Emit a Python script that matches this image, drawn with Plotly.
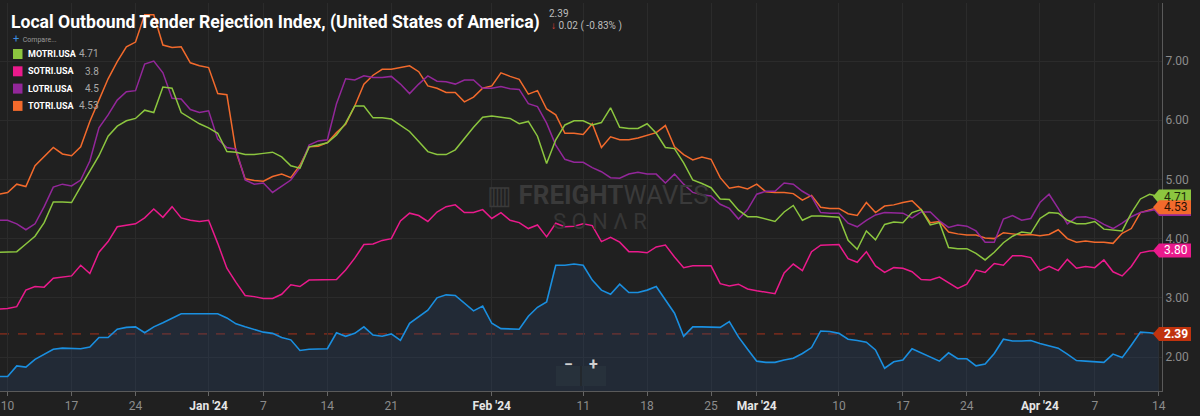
import pandas as pd
import plotly.graph_objects as go

# daily values, 2023-12-09 .. 2024-04-14
start_date = "2023-12-09"

otri = [1.67, 1.67, 1.85, 1.83, 1.96, 2.04, 2.13, 2.15, 2.15, 2.14, 2.17,
        2.33, 2.33, 2.47, 2.50, 2.51, 2.41, 2.51, 2.58, 2.65, 2.73,
        2.73, 2.73, 2.73, 2.73, 2.66, 2.56, 2.51, 2.46, 2.42, 2.40,
        2.33, 2.29, 2.11, 2.13, 2.14, 2.14, 2.41, 2.35, 2.40, 2.51,
        2.37, 2.35, 2.39, 2.28, 2.57, 2.68, 2.79, 3.00, 3.05, 3.04,
        2.91, 2.78, 2.86, 2.57, 2.48, 2.48, 2.47, 2.69, 2.84, 2.93,
        3.55, 3.55, 3.57, 3.55, 3.30, 3.13, 3.06, 3.23, 3.09, 3.09,
        3.13, 3.19, 2.96, 2.74, 2.35, 2.51, 2.51, 2.51, 2.50, 2.60,
        2.34, 2.13, 1.93, 1.91, 1.91, 1.95, 1.98, 2.06, 2.16, 2.44,
        2.43, 2.40, 2.30, 2.28, 2.25, 2.12, 1.81, 1.92, 1.95, 2.14,
        2.07, 2.01, 1.93, 2.07, 1.97, 1.97, 1.85, 1.88, 2.06, 2.30,
        2.27, 2.27, 2.28, 2.23, 2.19, 2.15, 2.05, 1.94, 1.93, 1.92,
        1.91, 2.05, 1.99, 2.20, 2.42, 2.41, 2.39]

motri = [3.77, 3.78, 3.78, 3.91, 4.04, 4.27, 4.62, 4.62, 4.61, 4.88, 5.13,
         5.40, 5.73, 5.90, 5.99, 6.03, 6.17, 6.13, 6.56, 6.54, 6.13,
         6.03, 5.94, 5.87, 5.78, 5.47, 5.46, 5.42, 5.42, 5.44, 5.46,
         5.38, 5.23, 5.19, 5.55, 5.58, 5.62, 5.75, 5.95, 6.24, 6.24,
         6.04, 6.04, 6.02, 5.92, 5.81, 5.64, 5.47, 5.42, 5.42, 5.50,
         5.69, 5.88, 6.05, 6.07, 6.05, 6.03, 5.94, 5.98, 5.73, 5.27,
         5.67, 5.92, 5.99, 5.99, 5.92, 5.96, 6.21, 5.88, 5.86, 5.86,
         5.94, 5.78, 5.54, 5.52, 5.28, 4.99, 4.93, 4.86, 4.67, 4.66,
         4.48, 4.37, 4.37, 4.33, 4.29, 4.45, 4.56, 4.31, 4.38, 4.38,
         4.37, 4.36, 3.97, 3.82, 4.13, 3.98, 4.24, 4.28, 4.27, 4.44,
         4.49, 4.23, 4.27, 3.85, 3.83, 3.83, 3.75, 3.64, 3.77, 3.93,
         4.04, 4.11, 4.09, 4.34, 4.44, 4.43, 4.31, 4.25, 4.25, 4.29,
         4.16, 4.14, 4.13, 4.43, 4.67, 4.75, 4.71]

sotri = [2.81, 2.82, 2.85, 3.13, 3.19, 3.18, 3.33, 3.35, 3.37, 3.55, 3.41,
         3.77, 3.95, 4.20, 4.22, 4.25, 4.35, 4.50, 4.36, 4.54, 4.35,
         4.31, 4.29, 4.31, 3.92, 3.50, 3.26, 3.04, 3.02, 2.99, 2.99,
         3.06, 3.22, 3.19, 3.30, 3.30, 3.31, 3.31, 3.47, 3.67, 3.90,
         3.91, 3.97, 4.00, 4.30, 4.43, 4.39, 4.29, 4.45, 4.54, 4.57,
         4.44, 4.44, 4.49, 4.34, 4.44, 4.31, 4.27, 4.17, 4.23, 4.03,
         4.26, 4.20, 4.21, 4.25, 4.22, 3.95, 4.02, 3.94, 3.78, 3.78,
         3.76, 3.86, 3.89, 3.69, 3.51, 3.54, 3.54, 3.54, 3.24, 3.20,
         3.23, 3.15, 3.12, 3.09, 3.07, 3.42, 3.57, 3.46, 3.78, 3.89,
         3.90, 3.90, 3.66, 3.60, 3.78, 3.54, 3.43, 3.51, 3.50, 3.44,
         3.31, 3.30, 3.35, 3.26, 3.16, 3.23, 3.47, 3.43, 3.58, 3.55,
         3.71, 3.71, 3.68, 3.46, 3.53, 3.46, 3.65, 3.50, 3.53, 3.51,
         3.64, 3.44, 3.37, 3.53, 3.76, 3.79, 3.8]

lotri = [4.31, 4.31, 4.25, 4.15, 4.25, 4.54, 4.87, 4.92, 4.89, 4.99, 5.31,
         5.87, 6.09, 6.34, 6.48, 6.50, 6.95, 7.00, 6.80, 6.37, 6.36,
         6.18, 6.13, 6.16, 5.68, 5.54, 5.51, 4.99, 4.92, 4.94, 4.78,
         4.89, 4.99, 5.20, 5.58, 5.65, 5.67, 6.28, 6.70, 6.68, 6.75,
         6.72, 6.72, 6.74, 6.61, 6.45, 6.61, 6.75, 6.66, 6.65, 6.61,
         6.68, 6.68, 6.54, 6.54, 6.57, 6.53, 6.52, 6.28, 6.23, 5.95,
         5.58, 5.34, 5.29, 5.29, 5.20, 5.13, 5.03, 5.02, 5.09, 5.12,
         5.09, 5.09, 4.94, 5.09, 4.92, 4.78, 4.74, 4.72, 4.58, 4.51,
         4.33, 4.49, 4.75, 4.80, 4.80, 4.94, 4.92, 4.80, 4.71, 4.44,
         4.43, 4.43, 4.26, 4.20, 4.31, 4.40, 4.44, 4.43, 4.43, 4.35,
         4.45, 4.45, 4.30, 4.19, 4.23, 4.21, 4.13, 3.94, 3.94, 4.33,
         4.39, 4.31, 4.34, 4.61, 4.75, 4.51, 4.25, 4.36, 4.37, 4.33,
         4.24, 4.17, 4.26, 4.37, 4.44, 4.47, 4.5]

totri = [4.75, 4.78, 4.92, 4.88, 5.23, 5.38, 5.54, 5.43, 5.40, 5.55, 5.98,
         6.34, 6.70, 6.99, 7.24, 7.32, 7.78, 7.78, 7.27, 7.23, 7.24,
         6.97, 6.92, 6.89, 6.45, 6.43, 5.47, 5.01, 4.98, 4.97, 5.05,
         5.09, 5.03, 5.24, 5.55, 5.56, 5.62, 5.79, 5.93, 6.24, 6.61,
         6.76, 6.86, 6.86, 6.89, 6.92, 6.82, 6.58, 6.54, 6.47, 6.47,
         6.31, 6.39, 6.54, 6.58, 6.80, 6.74, 6.69, 6.44, 6.50, 6.19,
         6.09, 5.78, 5.78, 5.76, 5.94, 5.54, 5.72, 5.67, 5.67, 5.70,
         5.74, 5.79, 5.91, 5.55, 5.42, 5.33, 5.38, 5.34, 5.03, 4.85,
         4.88, 4.84, 4.92, 4.79, 4.78, 4.78, 4.76, 4.65, 4.73, 4.53,
         4.51, 4.51, 4.42, 4.39, 4.61, 4.44, 4.55, 4.57, 4.61, 4.64,
         4.49, 4.27, 4.29, 4.11, 4.08, 4.06, 4.06, 4.01, 4.00, 4.10,
         4.08, 4.06, 4.07, 4.05, 4.07, 4.15, 4.00, 3.94, 3.96, 3.94,
         3.94, 3.92, 4.09, 4.17, 4.44, 4.48, 4.53]

tick_dates = ["2023-12-10", "2023-12-17", "2023-12-24", "2024-01-01",
              "2024-01-07", "2024-01-14", "2024-01-21", "2024-02-01",
              "2024-02-11", "2024-02-18", "2024-02-25", "2024-03-01",
              "2024-03-10", "2024-03-17", "2024-03-24", "2024-04-01",
              "2024-04-07", "2024-04-14"]
tick_labels = ["10", "17", "24", "Jan '24", "7", "14", "21", "Feb '24",
               "11", "18", "25", "Mar '24", "10", "17", "24", "Apr '24",
               "7", "14"]
y_ticks = [2, 3, 4, 5, 6, 7]

title = "Local Outbound Tender Rejection Index, (United States of America)"
main_change = -0.02
main_change_pct = -0.83

# name, values, line colour, tag text colour
compare = [
    ("MOTRI.USA", motri, "#8cc63f", "#1b2a0a"),
    ("SOTRI.USA", sotri, "#ea1a8c", "#ffffff"),
    ("LOTRI.USA", lotri, "#93279a", "#ffffff"),
    ("TOTRI.USA", totri, "#f26a2c", "#2a1205"),
]

BG = "#202020"
W, H = 1200, 416
PLOT_RIGHT = 1162
dates = pd.date_range(start_date, periods=len(otri), freq="D")


def px(x):
    return x / W


def py(y):
    return 1 - y / H


fig = go.Figure()

fig.add_trace(go.Scatter(
    x=dates, y=otri, mode="lines", fill="tozeroy",
    fillcolor="rgba(40,70,110,0.28)",
    line=dict(color="#1a8fe0", width=1.6),
    hoverinfo="skip", showlegend=False,
))
for name, vals, color, _ in reversed(compare):
    fig.add_trace(go.Scatter(
        x=dates, y=vals, mode="lines", name=name,
        line=dict(color=color, width=1.5),
        hoverinfo="skip", showlegend=False,
    ))

last_main = otri[-1]

shapes = [dict(type="line", xref="paper", yref="y",
               x0=0, x1=px(PLOT_RIGHT), y0=last_main, y1=last_main,
               line=dict(color="#a8321a", width=1, dash="dash"), layer="below")]
annotations = []

# right-hand value tags
half = 7 / 59.2


def add_tag(value, color, text_color, bold=False, label=True):
    tip, left, right = px(1153), px(1159), px(1191)
    path = (f"M {tip},{value} L {left},{value + half} L {right},{value + half} "
            f"L {right},{value - half} L {left},{value - half} Z")
    shapes.append(dict(type="path", path=path, xref="paper", yref="y",
                       fillcolor=color, line=dict(width=0), layer="above"))
    if not label:
        return
    txt = f"{value:.2f}"
    annotations.append(dict(
        x=px(1175.5), y=value, xref="paper", yref="y", showarrow=False,
        text=f"<b>{txt}</b>" if bold else txt,
        font=dict(size=12, color=text_color, family="Roboto"),
        xanchor="center", yanchor="middle"))


# LOTRI tag sits under TOTRI's, its text is hidden there
add_tag(motri[-1], compare[0][2], compare[0][3])
add_tag(lotri[-1], compare[2][2], compare[2][3], label=False)
add_tag(totri[-1], compare[3][2], compare[3][3])
add_tag(sotri[-1], compare[1][2], compare[1][3])
add_tag(last_main, "#c0330e", "#ffffff", bold=True)

# title block
annotations.append(dict(
    x=px(9), y=py(22), xref="paper", yref="paper", showarrow=False,
    text=f"<b>{title}</b>", xanchor="left", yanchor="middle",
    font=dict(size=17.6, color="#ffffff", family="Roboto")))
annotations.append(dict(
    x=px(547), y=py(13), xref="paper", yref="paper", showarrow=False,
    text=f"{last_main:.2f}", xanchor="left", yanchor="middle",
    font=dict(size=10, color="#bdbdbd", family="Roboto")))
annotations.append(dict(
    x=px(549), y=py(26), xref="paper", yref="paper", showarrow=False,
    text=(f"<span style='color:#e8403a'>↓</span> {abs(main_change):.2f} "
          f"( {main_change_pct:.2f}% )"),
    xanchor="left", yanchor="middle",
    font=dict(size=10, color="#bdbdbd", family="Roboto")))

# legend block
annotations.append(dict(
    x=px(11), y=py(38), xref="paper", yref="paper", showarrow=False,
    text="<span style='color:#3b8de0;font-size:11px'>+</span>  Compare...",
    xanchor="left", yanchor="middle",
    font=dict(size=7, color="#9a9a9a", family="Roboto")))
for i, (name, vals, color, _) in enumerate(compare):
    yc = 54 + i * 17.3
    shapes.append(dict(type="rect", xref="paper", yref="paper",
                       x0=px(13), x1=px(22.5), y0=py(yc - 5), y1=py(yc + 5),
                       fillcolor=color, line=dict(width=0)))
    annotations.append(dict(
        x=px(26), y=py(yc), xref="paper", yref="paper", showarrow=False,
        text=f"<b>{name}</b>", xanchor="left", yanchor="middle",
        font=dict(size=9, color="#ffffff", family="Roboto")))
    annotations.append(dict(
        x=px(101), y=py(yc), xref="paper", yref="paper", showarrow=False,
        text=f"{vals[-1]:g}", xanchor="right", yanchor="middle",
        font=dict(size=10, color="#a8a8a8", family="Roboto")))

# watermark
annotations.append(dict(
    x=px(598), y=py(195), xref="paper", yref="paper", showarrow=False,
    text="▥ <b>FREIGHT</b>WAVES", xanchor="center", yanchor="middle",
    font=dict(size=26, color="#3a3a3a", family="Roboto")))
annotations.append(dict(
    x=px(600), y=py(221), xref="paper", yref="paper", showarrow=False,
    text="S O N Λ R", xanchor="center", yanchor="middle",
    font=dict(size=22, color="#363636", family="Roboto")))

# zoom buttons
shapes.append(dict(type="rect", xref="paper", yref="paper",
                   x0=px(556), x1=px(606), y0=py(366), y1=py(386),
                   fillcolor="#27313b", line=dict(width=0)))
shapes.append(dict(type="line", xref="paper", yref="paper",
                   x0=px(581), x1=px(581), y0=py(366), y1=py(386),
                   line=dict(color=BG, width=1)))
annotations.append(dict(
    x=px(568.5), y=py(376), xref="paper", yref="paper", showarrow=False,
    text="<b>−</b>", font=dict(size=16, color="#d0d0d0", family="Roboto")))
annotations.append(dict(
    x=px(593.5), y=py(376), xref="paper", yref="paper", showarrow=False,
    text="<b>+</b>", font=dict(size=16, color="#d0d0d0", family="Roboto")))

tick_text = [f"<b><span style='color:#e6e6e6'>{t}</span></b>" if "'" in t else t
             for t in tick_labels]

fig.update_layout(
    width=W, height=H,
    margin=dict(l=0, r=0, t=0, b=0),
    paper_bgcolor=BG, plot_bgcolor=BG,
    shapes=shapes, annotations=annotations,
    xaxis=dict(
        domain=[0, px(PLOT_RIGHT)],
        range=["2023-12-09 04:00", "2024-04-14 08:40"],
        tickvals=tick_dates, ticktext=tick_text,
        tickfont=dict(size=12, color="#8c8c8c", family="Roboto"),
        ticks="outside", ticklen=4, tickcolor="#666666",
        showgrid=True, gridcolor="#2b2b2b", gridwidth=1,
        showline=True, linecolor="#5a5a5a", linewidth=1,
        zeroline=False, automargin=False,
    ),
    yaxis=dict(
        domain=[py(391), py(3)],
        range=[1.426, 7.98], side="right",
        tickvals=y_ticks, tickformat=".2f",
        tickfont=dict(size=12, color="#8c8c8c", family="Roboto"),
        ticks="", showgrid=True, gridcolor="#2b2b2b", gridwidth=1,
        showline=True, linecolor="#5a5a5a", linewidth=1,
        zeroline=False, automargin=False,
    ),
)

fig.write_html(
    "out.html",
    config={"displayModeBar": False},
    post_script="document.body.style.margin='0';document.body.style.overflow='hidden';",
)
